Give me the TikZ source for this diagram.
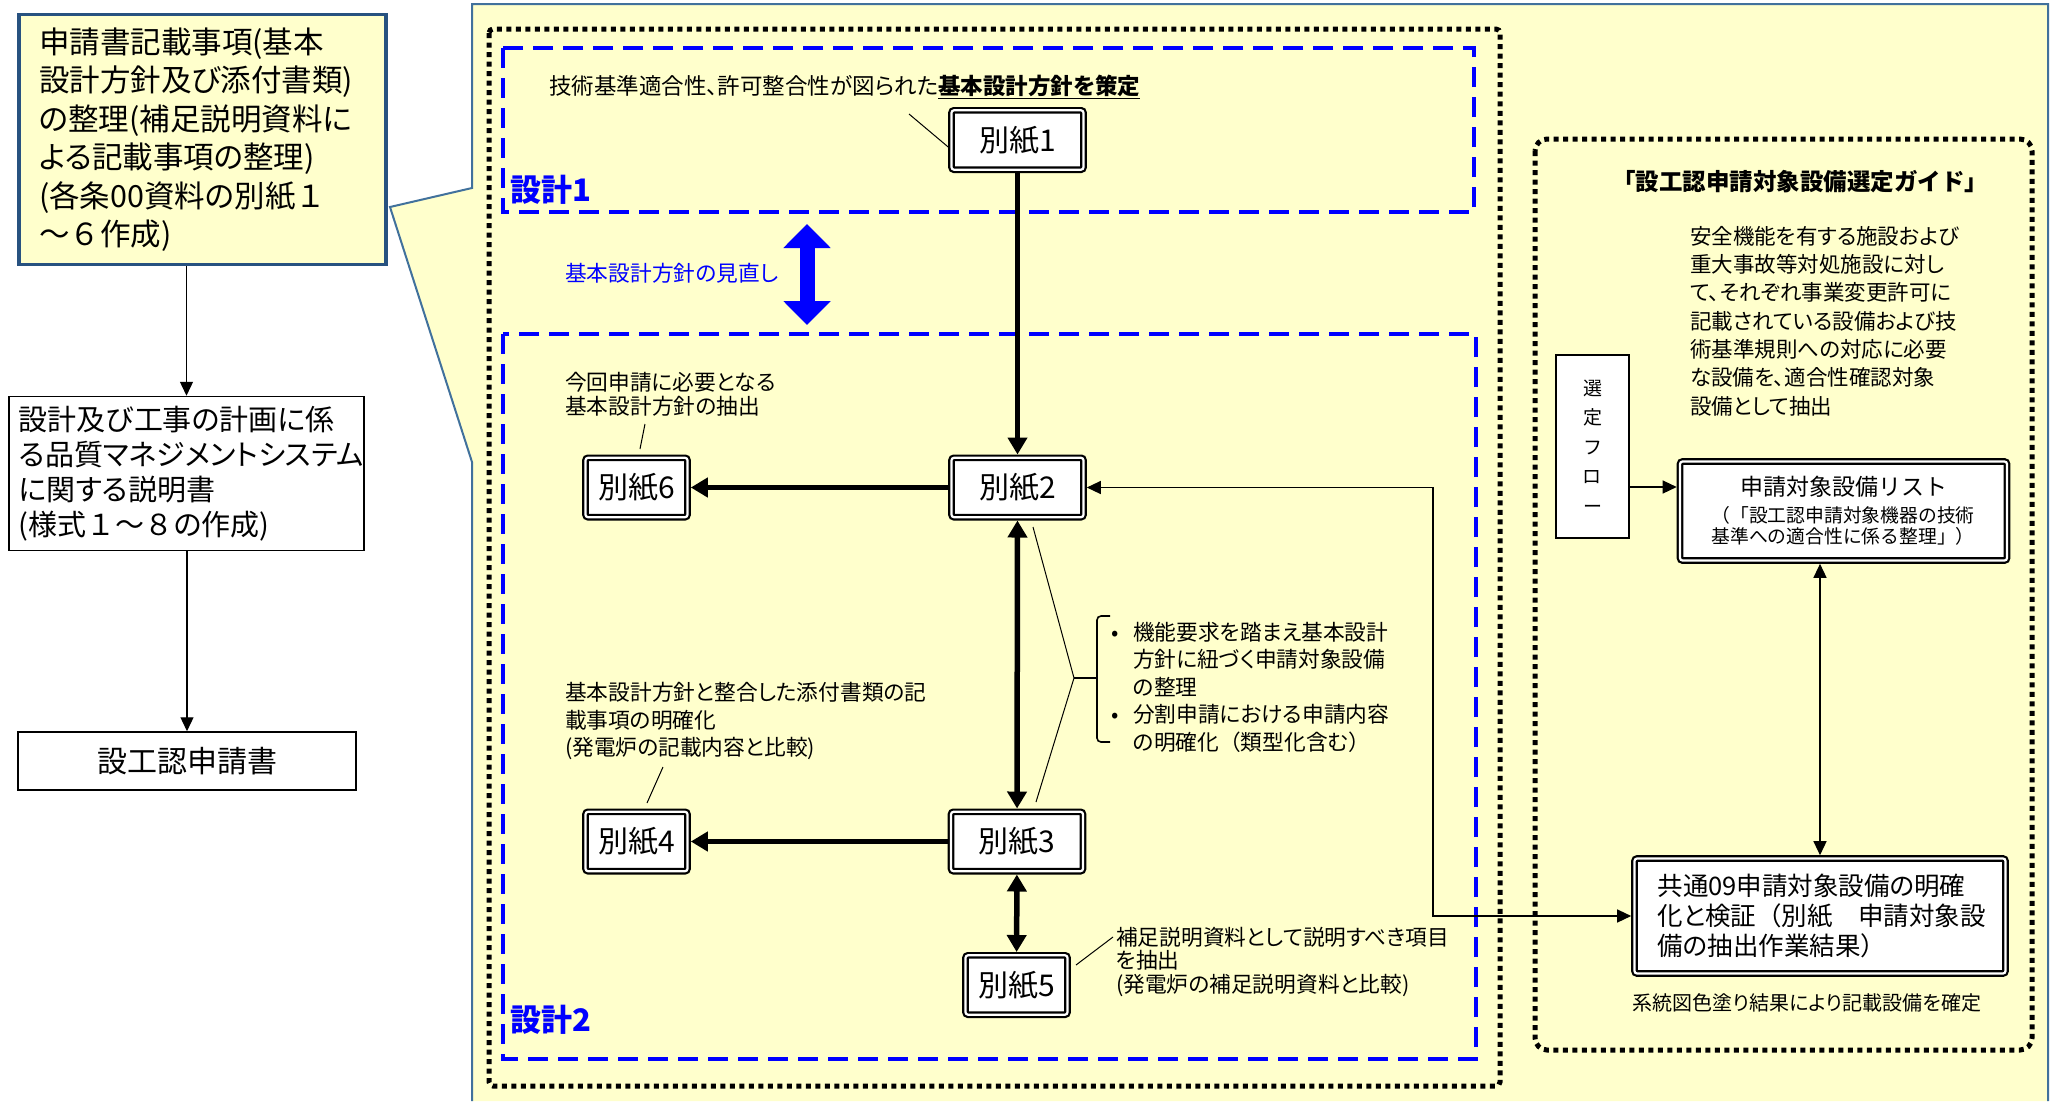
\documentclass[tikz,border=0pt]{standalone}
\usepackage{fontspec}
\setmainfont{Noto Sans CJK JP}[RawFeature=+palt]
\newfontfamily\fw{Noto Sans CJK JP}
\usetikzlibrary{arrows.meta}
\definecolor{cyel}{RGB}{255,255,204}
\definecolor{cedge}{RGB}{65,113,156}
\definecolor{cdark}{RGB}{40,82,128}
\definecolor{cblue}{RGB}{0,0,255}
\begin{document}
\begin{tikzpicture}[x=1pt,y=-1pt,
  thinline/.style={line width=1pt},
  thinarr/.style={line width=1.3pt,-{Triangle[length=14pt,width=13pt]}},
  thindbl/.style={line width=1.3pt,{Triangle[length=14pt,width=13pt]}-{Triangle[length=14pt,width=13pt]}},
  thickarr/.style={line width=5.5pt,-{Triangle[length=17pt,width=19pt]}},
  thickdbl/.style={line width=5.5pt,{Triangle[length=17pt,width=19pt]}-{Triangle[length=17pt,width=19pt]}},
  bzbox/.style={draw, double=white, double distance=2.2pt, line width=2.2pt, fill=white,
    rounded corners=2.5pt, inner sep=0pt, outer sep=3.3pt},
  bzlabel/.style={bzbox, minimum height=59.4pt, font=\fontsize{30}{36}\selectfont},
  dotline/.style={line width=5pt, dash pattern=on 5pt off 4.5pt},
  bluedash/.style={draw=cblue, line width=4pt, dash pattern=on 20pt off 10pt},
  note/.style={anchor=west, align=left, inner sep=0pt},
  notefont/.style={font=\fontsize{21.7}{#1}\selectfont},
  plainbox/.style={draw, line width=1.5pt, fill=white}
]
\useasboundingbox (0,0) rectangle (2057,1101);

% callout background
\fill[cyel] (472,1101) -- (472,462) -- (390,207) -- (472,188) -- (472,4) -- (2048,4) -- (2048,1101) -- cycle;
\draw[cedge, line width=2pt] (472,1101) -- (472,462) -- (390,207) -- (472,188) -- (472,4) -- (2048,4) -- (2048,1101);

% left column
\node[draw=cdark, line width=3.5pt, fill=cyel, text width=327pt, align=left, inner xsep=20pt,
  minimum height=250pt, font=\fontsize{30.5}{38.5}\selectfont] (a1) at (202.5,139.5)
  {申請書記載事項(基本\\設計方針及び添付書類)\\の整理(補足説明資料に\\よる記載事項の整理)\\(各条00資料の別紙{\fw １}\\{\fw ～６}作成)};
\node[plainbox, text width=335pt, align=left, inner xsep=10pt, minimum height=154pt,
  font=\fontsize{29}{35}\selectfont] (a2) at (186.5,473.5)
  {設計及び工事の計画に係\\る品質マネジメントシステム\\に関する説明書\\(様式{\fw １～８}の作成)};
\node[plainbox, minimum width=338pt, minimum height=58pt, inner sep=0pt,
  font=\fontsize{30}{36}\selectfont] (a3) at (187,761) {設工認申請書};
\draw[thinarr] (a2.north |- a1.south) -- (a2.north);
\draw[thinarr] (a3.north |- a2.south) -- (a3.north);

% frames
\draw[dotline, rounded corners=4pt] (489,29) rectangle (1500,1086);
\draw[bluedash] (503,48) rectangle (1474,212);
\draw[bluedash] (503,334) rectangle (1476,1059);
\draw[dotline, rounded corners=12pt] (1535,139) rectangle (2032,1050);

\node[note, text=cblue, font=\bfseries\fontsize{31}{34}\selectfont] (d1) at (510,190) {設計1};
\node[note, text=cblue, font=\bfseries\fontsize{31}{34}\selectfont] (d2) at (510,1020) {設計2};

% blue review arrow
\coordinate (bu) at (807,224);
\coordinate (bd) at (807,325);
\draw[cblue, line width=15pt, {Triangle[length=24pt,width=46pt]}-{Triangle[length=24pt,width=46pt]}] (bu) -- (bd);
\node[note, text=cblue, notefont=25] (rev) at (565,273) {基本設計方針の見直し};

% main boxes
\node[bzlabel, minimum width=132pt] (b1) at (1017.5,140) {別紙1};
\node[bzlabel, minimum width=132pt] (b2) at (1017.5,487.5) {別紙2};
\node[bzlabel, minimum width=132pt] (b3) at (1017,841.5) {別紙3};
\node[bzlabel, minimum width=102pt] (b6) at (636.5,487.5) {別紙6};
\node[bzlabel, minimum width=102pt] (b4) at (636.5,841.5) {別紙4};
\node[bzlabel, minimum width=102pt] (b5) at (1016.5,985) {別紙5};

\draw[thickarr] (b1) -- (b2);
\draw[thickarr] (b2) -- (b6);
\draw[thickdbl] (b2) -- (b3);
\draw[thickarr] (b3) -- (b4);
\draw[thickdbl] (b3) -- (b5);

% notes in the design area
\node[note, font=\fontsize{22.5}{26}\selectfont] (t1) at (549,87)
  {技術基準適合性、許可整合性が図られた\textbf{\underline{基本設計方針を策定}}};
\coordinate (l1a) at (909,114);
\draw[thinline] (l1a) -- ([yshift=-7pt]b1.west);

\node[note, notefont=24] (t6) at (565,394) {今回申請に必要となる\\基本設計方針の抽出};
\coordinate (l6a) at (645,424);
\coordinate (l6b) at (640,449);
\draw[thinline] (l6a) -- (l6b);

\node[note, notefont=27.5] (t4) at (565,721)
  {基本設計方針と整合した添付書類の記\\載事項の明確化\\(発電炉の記載内容と比較)};
\coordinate (l4a) at (663,767);
\coordinate (l4b) at (647,803);
\draw[thinline] (l4a) -- (l4b);

\node[note, notefont=23.5] (t5) at (1116,961.5)
  {補足説明資料として説明すべき項目\\を抽出\\(発電炉の補足説明資料と比較)};
\coordinate (l5a) at (1076,965);
\coordinate (l5b) at (1113,937);
\draw[thinline] (l5a) -- (l5b);

\node[note, notefont=27.5] (t23) at (1111,687)
  {\makebox[22pt][l]{•}機能要求を踏まえ基本設計\\\makebox[22pt][l]{}方針に紐づく申請対象設備\\\makebox[22pt][l]{}の整理\\\makebox[22pt][l]{•}分割申請における申請内容\\\makebox[22pt][l]{}の明確化{\fw （}類型化含む{\fw ）}};
\coordinate (lb2) at (1033,527);
\coordinate (apex) at (1074,678);
\coordinate (lb3) at (1036,802);
\coordinate (brt) at (1110,616);
\coordinate (brb) at (1110,742);
\draw[thinline] (lb2) -- (apex) -- (lb3);
\draw[line width=1.6pt] (apex) -- (1097,678);
\draw[line width=1.6pt, rounded corners=4pt] (brt) -- (1097,616) -- (1097,742) -- (brb);

% right guide
\node[font=\fw\bfseries\fontsize{23.5}{28}\selectfont, inner sep=0pt] (gt) at (1800,182) {「設工認申請対象設備選定ガイド」};
\node[note, font=\fontsize{21.5}{28.3}\selectfont] (para) at (1690,321)
  {安全機能を有する施設および\\重大事故等対処施設に対し\\て、それぞれ事業変更許可に\\記載されている設備および技\\術基準規則への対応に必要\\な設備を、適合性確認対象\\設備として抽出};
\node[plainbox, minimum width=73pt, minimum height=183pt, inner sep=0pt, align=center,
  font=\fontsize{19}{29.5}\selectfont] (sel) at (1592.5,446.5) {選\\定\\フ\\ロ\\ー};
\node[bzbox, minimum width=327pt, minimum height=99pt, text width=264pt, inner xsep=31.5pt,
  align=left, font=\fw\fontsize{18.8}{21}\selectfont] (lst) at (1843.5,511)
  {{\fontsize{23}{28}\selectfont\makebox[264pt][c]{申請対象設備リスト}}\\[6pt]
   （「設工認申請対象機器の技術\\基準への適合性に係る整理」）};
\node[bzbox, minimum width=371pt, minimum height=115pt, text width=325pt, align=left,
  font=\fontsize{25.5}{30}\selectfont] (k09) at (1820,916)
  {共通09申請対象設備の明確\\化と検証{\fw （}別紙{\fw 　}申請対象設\\備の抽出作業結果{\fw ）}};
\node[font=\fontsize{20}{24}\selectfont, inner sep=0pt] (kres) at (1807,1003) {系統図色塗り結果により記載設備を確定};

\draw[thinarr] ([yshift=-40.5pt]sel.east) -- ([yshift=-40.5pt]sel.east -| lst.west);
\draw[thindbl] (k09.north |- lst.south) -- (k09.north);
\coordinate (turn) at (1433,700);
\draw[thindbl] (b2.east) -| (turn) |- (k09.west);
\end{tikzpicture}
\end{document}
